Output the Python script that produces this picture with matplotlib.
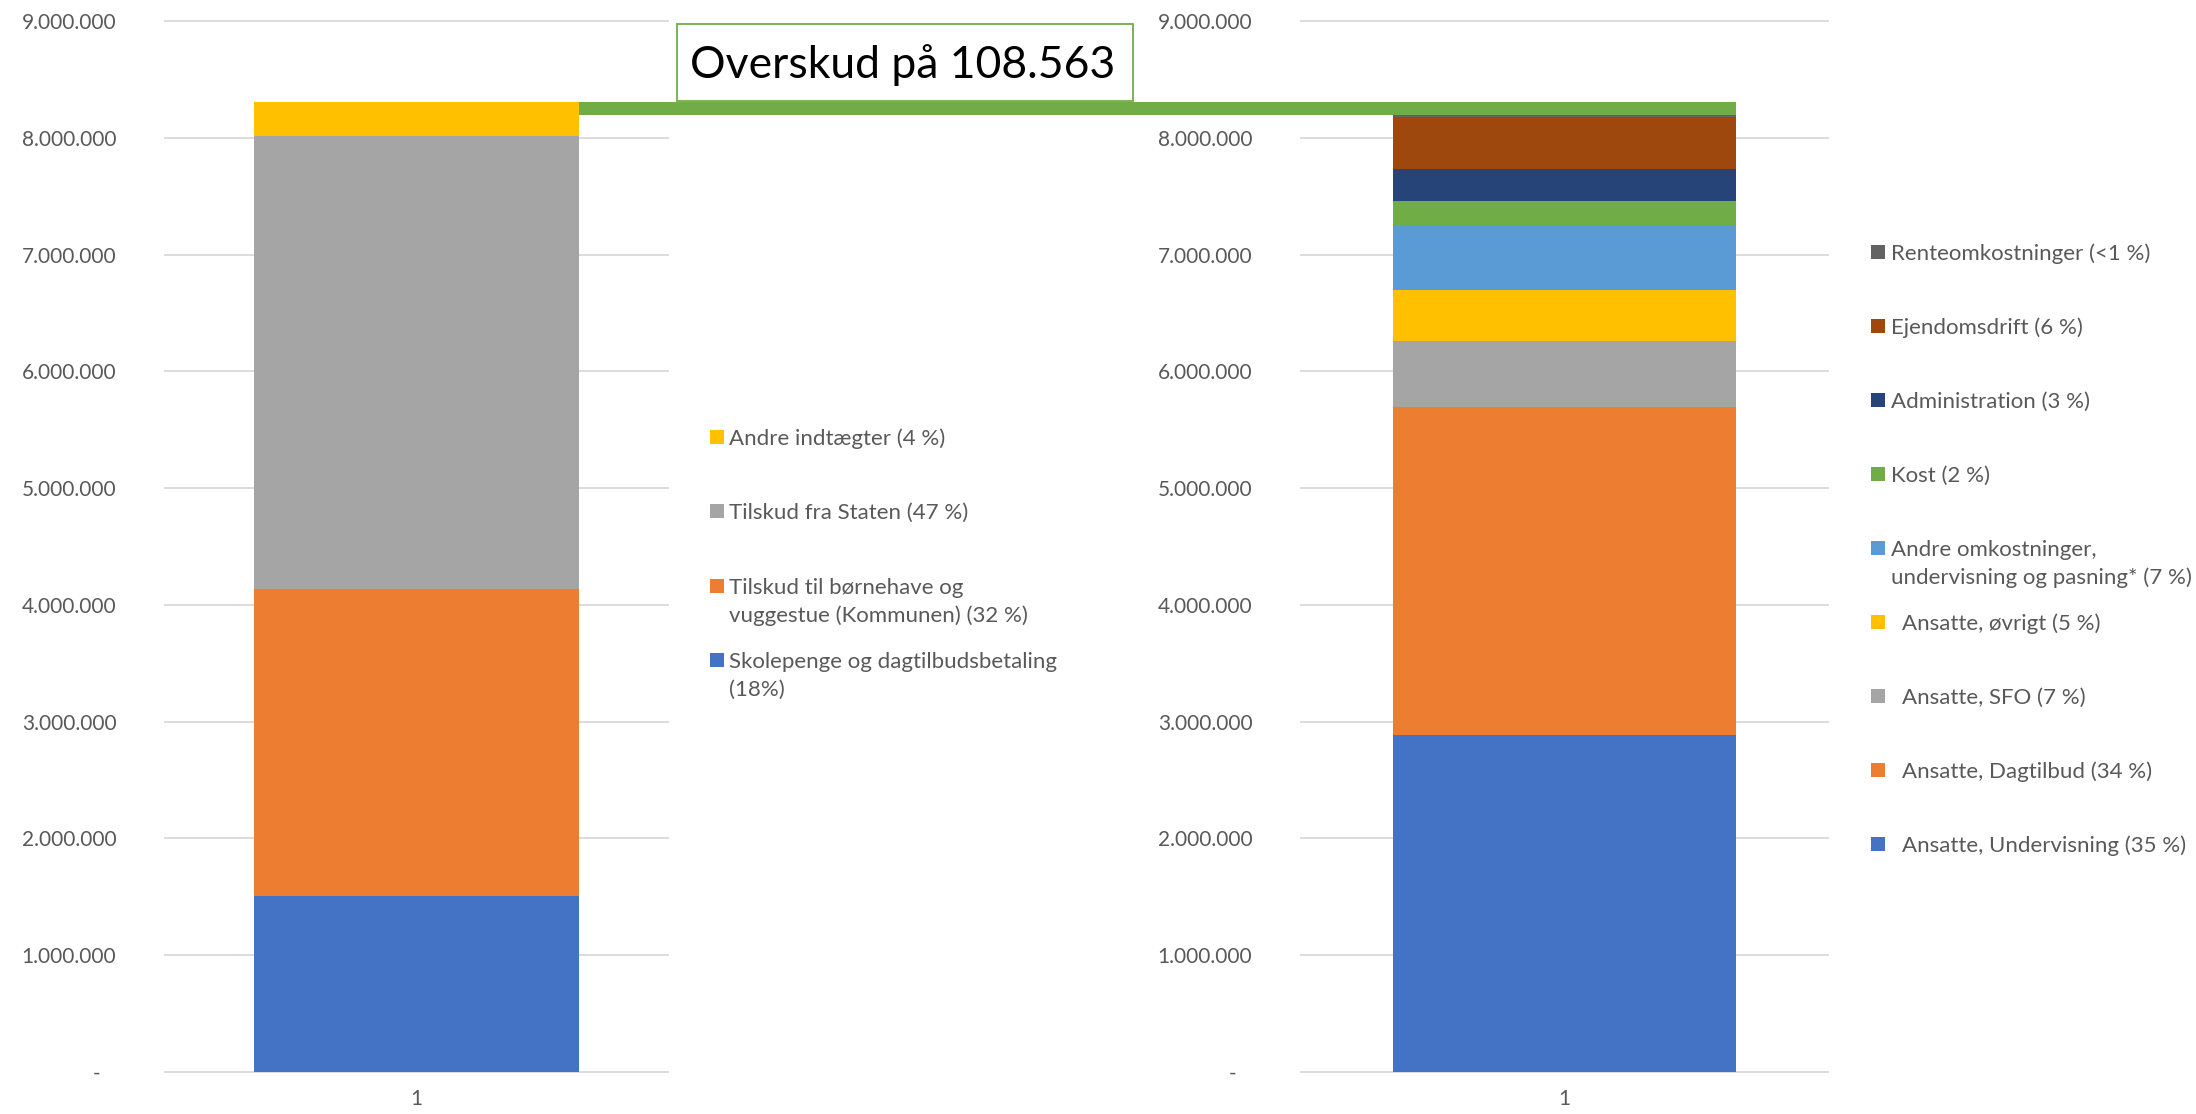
import matplotlib
matplotlib.use("Agg")
import matplotlib.pyplot as plt
from matplotlib.patches import Rectangle
from matplotlib.ticker import FuncFormatter, MultipleLocator
from matplotlib.transforms import blended_transform_factory

plt.rcParams["font.family"] = ["Lato", "DejaVu Sans"]

W, H = 2196, 1114

income_labels = [
    "Skolepenge og dagtilbudsbetaling\n(18%)",
    "Tilskud til børnehave og\nvuggestue (Kommunen) (32 %)",
    "Tilskud fra Staten (47 %)",
    "Andre indtægter (4 %)",
]
income_values = [1506000, 2629000, 3877000, 295563]
income_colors = ["#4472C4", "#ED7D31", "#A5A5A5", "#FFC000"]

expense_labels = [
    "Ansatte, Undervisning (35 %)",
    "Ansatte, Dagtilbud (34 %)",
    "Ansatte, SFO (7 %)",
    "Ansatte, øvrigt (5 %)",
    "Andre omkostninger,\nundervisning og pasning* (7 %)",
    "Kost (2 %)",
    "Administration (3 %)",
    "Ejendomsdrift (6 %)",
    "Renteomkostninger (<1 %)",
]
expense_values = [2886000, 2811000, 565000, 437000, 551000, 205000, 274000, 450000, 20000]
expense_colors = ["#4472C4", "#ED7D31", "#A5A5A5", "#FFC000", "#5B9BD5",
                  "#70AD47", "#264478", "#9E480E", "#636363"]

overskud = 108563
green = "#70AD47"
text_grey = "#595959"


def thousands(v):
    return f"{int(round(v)):,}".replace(",", ".")


def fmt(v, pos):
    if v == 0:
        return "-   "
    return thousands(v)


fig = plt.figure(figsize=(W / 100, H / 100), dpi=100)


def px_axes(x0, x1, y_top, y_bot):
    return fig.add_axes([x0 / W, 1 - y_bot / H, (x1 - x0) / W, (y_bot - y_top) / H])


def style(ax):
    ax.set_ylim(0, 9000000)
    ax.set_xlim(-0.5, 0.5)
    ax.yaxis.set_major_locator(MultipleLocator(1000000))
    ax.yaxis.set_major_formatter(FuncFormatter(fmt))
    ax.set_xticks([0])
    ax.set_xticklabels(["1"])
    ax.grid(axis="y", color="#D9D9D9", lw=1.3)
    ax.set_axisbelow(True)
    for s in ax.spines.values():
        s.set_visible(False)
    ax.tick_params(length=0, labelsize=15, labelcolor=text_grey)
    ax.tick_params(axis="y", pad=35)
    ax.tick_params(axis="x", pad=12)
    for ln in ax.get_ygridlines():
        ln.set_clip_on(False)


ax1 = px_axes(165, 668, 21, 1072)
ax2 = px_axes(1301, 1828, 21, 1072)
style(ax1)
style(ax2)

w1, w2 = 0.646, 0.649

bottom = 0
for v, c in zip(income_values, income_colors):
    ax1.bar(0, v, width=w1, bottom=bottom, color=c, zorder=2)
    bottom += v

bottom = 0
for v, c in zip(expense_values, expense_colors):
    ax2.bar(0, v, width=w2, bottom=bottom, color=c, zorder=2)
    bottom += v
exp_total = bottom
ax2.bar(0, overskud, width=w2, bottom=exp_total, color=green, zorder=2)

# green surplus band from left bar over to the right bar
inv = fig.transFigure.inverted()
xl = inv.transform(ax1.transData.transform((w1 / 2, 0)))[0]
xr = inv.transform(ax2.transData.transform((-w2 / 2, 0)))[0]
trans = blended_transform_factory(fig.transFigure, ax2.transData)
fig.add_artist(Rectangle((xl, exp_total), xr - xl, overskud, transform=trans,
                         color=green, lw=0, clip_on=False, zorder=3))

# annotation box
fig.add_artist(Rectangle((677 / W, 1 - 101 / H), 456 / W, 77 / H, transform=fig.transFigure,
                         facecolor="white", edgecolor=green, lw=1.3, zorder=4))
fig.text(903 / W, 1 - 78 / H, "Overskud på " + thousands(overskud), ha="center", va="baseline",
         fontsize=32, color="black", zorder=5)


def draw_legend(labels, colors, x_box, x_text, y_start, step):
    for i, (lab, col) in enumerate(zip(labels[::-1], colors[::-1])):
        yc = y_start + i * step
        fig.add_artist(Rectangle((x_box / W, 1 - (yc + 7) / H), 14 / W, 14 / H,
                                 transform=fig.transFigure, color=col, lw=0))
        xt = x_text + (11 if lab.startswith("Ansatte") else 0)
        for j, line in enumerate(lab.split("\n")):
            fig.text(xt / W, 1 - (yc + 28 * j + 8) / H, line, ha="left", va="baseline",
                     fontsize=16, color=text_grey)


draw_legend(income_labels, income_colors, 710, 729, 437, 74.3)
draw_legend(expense_labels, expense_colors, 1871, 1891, 252, 74)

fig.savefig("out.png", dpi=100)
